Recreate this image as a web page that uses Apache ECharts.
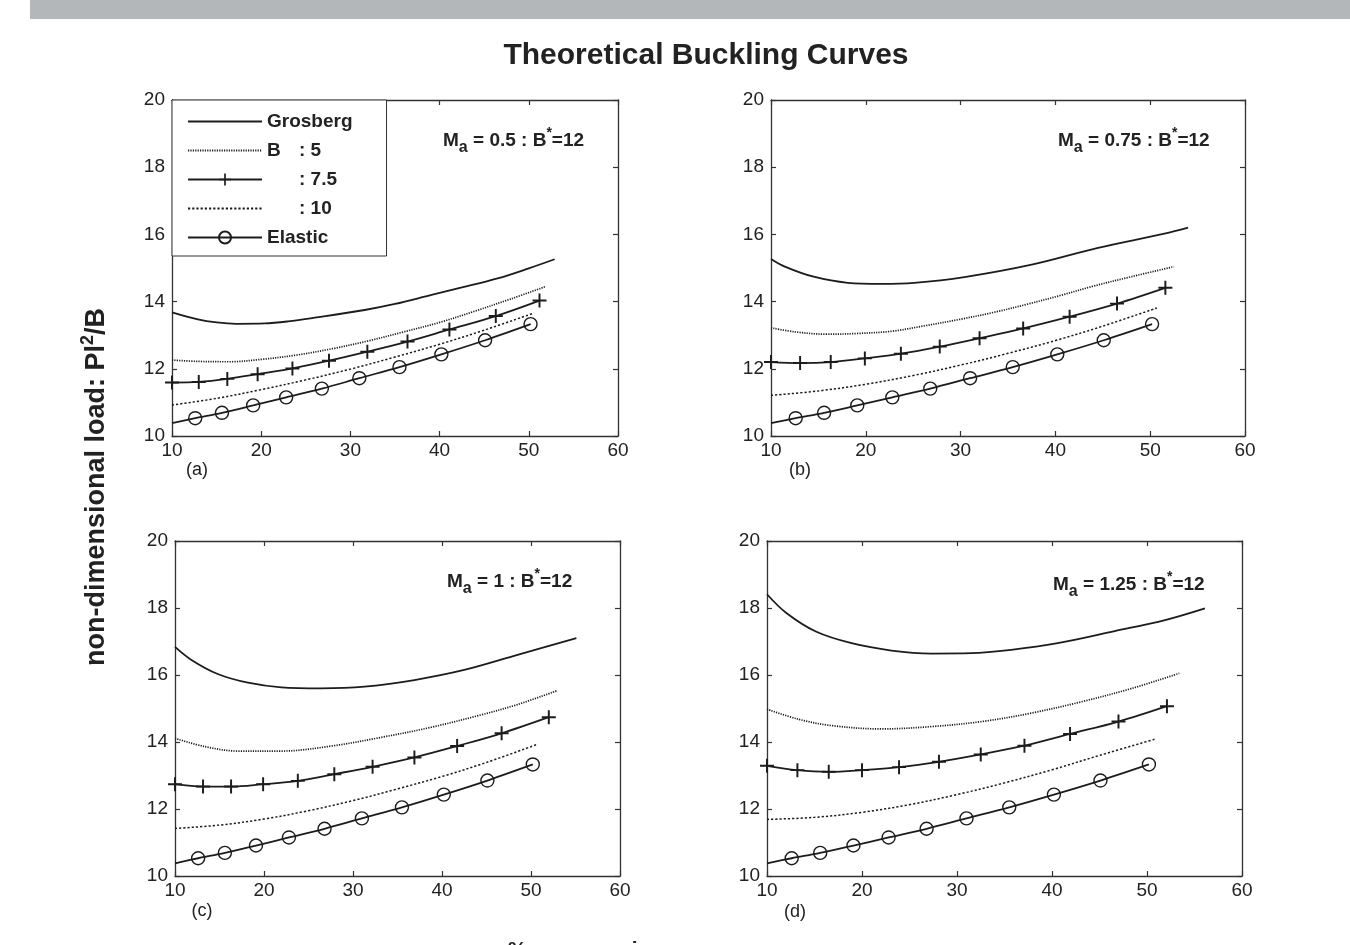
<!DOCTYPE html>
<html>
<head>
<meta charset="utf-8">
<title>Theoretical Buckling Curves</title>
<script src="https://cdn.jsdelivr.net/npm/echarts@6.0.0/dist/echarts.min.js"></script>
<style>
  html, body { margin: 0; padding: 0; background: #fff; }
  #chart { width: 1350px; height: 945px; }
</style>
</head>
<body>
<div id="chart"></div>
<script>
// values as [% compression, PL^2/B]
var elastic = [[10, 10.38], [12.6, 10.53], [15.6, 10.69], [19.1, 10.91], [22.8, 11.15], [26.8, 11.41],
    [31.0, 11.72], [35.5, 12.05], [40.2, 12.43], [45.1, 12.85], [50.2, 13.33]];

// (a) Ma = 0.5
var grosbergA = [[10, 13.68], [12.9, 13.47], [15, 13.38], [17.2, 13.34], [20.4, 13.35], [23, 13.41], [26, 13.52],
    [31.6, 13.75], [35, 13.93], [39.1, 14.2], [42.5, 14.42], [46.5, 14.69], [50, 14.99], [52.9, 15.26]];
var b5A = [[10, 12.26], [13, 12.22], [16.5, 12.21], [20, 12.28], [24, 12.41], [28, 12.6], [32, 12.83],
    [36, 13.1], [40, 13.38], [44, 13.72], [48, 14.08], [51.8, 14.44]];
var plusA = [[10, 11.59], [13, 11.61], [16.2, 11.7], [19.6, 11.84], [23.5, 12.01], [27.6, 12.24], [31.9, 12.51],
    [36.4, 12.81], [41.1, 13.17], [46.3, 13.57], [51.2, 14.03]];
var b10A = [[10, 10.92], [15, 11.12], [20, 11.38], [25, 11.67], [30, 11.99], [35, 12.35], [40, 12.73],
    [45, 13.15], [50.6, 13.66]];

// (b) Ma = 0.75
var grosbergB = [[10, 15.27], [11.4, 15.05], [14.5, 14.74], [18.1, 14.56], [21.6, 14.53], [25.1, 14.56],
    [30.4, 14.73], [37.5, 15.1], [44.5, 15.6], [51.5, 16.02], [54, 16.2]];
var b5B = [[10, 13.22], [12.5, 13.1], [15.8, 13.03], [19, 13.05], [22.8, 13.12], [26, 13.27], [29.9, 13.47],
    [33.5, 13.68], [37, 13.92], [40.5, 14.18], [44, 14.46], [48, 14.74], [52.5, 15.04]];
var plusB = [[10, 12.2], [13.07, 12.17], [16.3, 12.2], [19.9, 12.31], [23.7, 12.45], [27.8, 12.66], [32, 12.91],
    [36.6, 13.2], [41.5, 13.55], [46.5, 13.94], [51.6, 14.41]];
var b10B = [[10, 11.21], [15, 11.34], [20, 11.54], [25, 11.8], [30, 12.11], [35, 12.46], [40, 12.84],
    [45, 13.27], [50.7, 13.81]];

// (c) Ma = 1
var grosbergC = [[10, 16.84], [11.85, 16.45], [14.8, 16.03], [18.2, 15.77], [21.95, 15.63], [26.4, 15.6],
    [31.3, 15.65], [36.9, 15.85], [42.5, 16.15], [48.1, 16.57], [55.1, 17.1]];
var b5C = [[10, 14.11], [13.4, 13.86], [17.1, 13.73], [22, 13.73], [27.6, 13.88], [33.2, 14.14], [38.8, 14.44],
    [44.4, 14.81], [48.5, 15.12], [52.9, 15.53]];
var plusC = [[10, 12.74], [13.15, 12.67], [16.3, 12.67], [19.9, 12.74], [23.8, 12.84], [27.9, 13.04], [32.2, 13.26],
    [36.9, 13.54], [41.7, 13.88], [46.7, 14.26], [52, 14.74]];
var b10C = [[10, 11.42], [15, 11.52], [20, 11.7], [25, 11.95], [30, 12.25], [35, 12.6], [40, 12.97],
    [45, 13.39], [50.8, 13.94]];

// (d) Ma = 1.25
var grosbergD = [[10, 18.41], [12, 17.86], [15.2, 17.29], [18.9, 16.95], [23.1, 16.73], [27.3, 16.64], [31.5, 16.65],
    [35.7, 16.75], [40.6, 16.95], [46.6, 17.31], [51.9, 17.64], [56.1, 17.99]];
var b5D = [[10, 14.98], [13.3, 14.68], [16.8, 14.49], [22, 14.39], [27.3, 14.46], [32.6, 14.61], [37.8, 14.86],
    [43.1, 15.2], [48.4, 15.6], [53.4, 16.05]];
var plusD = [[10, 13.29], [13.2, 13.16], [16.5, 13.11], [20, 13.16], [23.9, 13.25], [28.1, 13.41], [32.5, 13.63],
    [37.1, 13.89], [41.9, 14.24], [47, 14.61], [52.1, 15.07]];
var b10D = [[10, 11.69], [15, 11.75], [20, 11.9], [25, 12.13], [30, 12.43], [35, 12.78], [40, 13.17],
    [45, 13.6], [50.9, 14.09]];

var maValues = ['0.5', '0.75', '1', '1.25'];
var panelTags = ['(a)', '(b)', '(c)', '(d)'];
var xRange = [10, 60, 10];   // min, max, step
var yRange = [10, 20, 2];

var FONT = '"Liberation Sans", Arial, Helvetica, sans-serif';
var ink = '#1c1c1c';
var plusPath = 'path://M4.3,0H5.7V4.3H10V5.7H5.7V10H4.3V5.7H0V4.3H4.3Z';

// layout of the four boxes (px)
var boxes = [
    {left: 172, top: 100, width: 446, height: 336},
    {left: 771, top: 100, width: 474, height: 336},
    {left: 175, top: 541, width: 445, height: 335},
    {left: 767, top: 541, width: 475, height: 335}
];
var notePos = [[443, 141], [1058, 141], [447, 582], [1053, 585]];
var tagPos = [[197, 470], [800, 470], [202, 911], [795, 912]];

var panels = [
    {grosberg: grosbergA, b5: b5A, plus: plusA, b10: b10A},
    {grosberg: grosbergB, b5: b5B, plus: plusB, b10: b10B},
    {grosberg: grosbergC, b5: b5C, plus: plusC, b10: b10C},
    {grosberg: grosbergD, b5: b5D, plus: plusD, b10: b10D}
];

var axisLine = {show: true, onZero: false, lineStyle: {color: '#333', width: 1.3}};
var axisTick = {show: true, inside: true, length: 5, lineStyle: {color: '#333', width: 1.2}};
var tickLabel = {fontSize: 19, color: '#222', fontFamily: FONT};

var xAxis = [], yAxis = [], series = [], graphic = [];

boxes.forEach(function (b, i) {
    // main axes + mirrored top/right axes for the closed box
    xAxis.push({gridIndex: i, type: 'value', min: xRange[0], max: xRange[1], interval: xRange[2],
        axisLine: axisLine, axisTick: axisTick, splitLine: {show: false},
        axisLabel: Object.assign({margin: 5}, tickLabel)});
    xAxis.push({gridIndex: i, type: 'value', position: 'top', min: xRange[0], max: xRange[1], interval: xRange[2],
        axisLine: axisLine, axisTick: axisTick, splitLine: {show: false}, axisLabel: {show: false}});
    yAxis.push({gridIndex: i, type: 'value', min: yRange[0], max: yRange[1], interval: yRange[2],
        axisLine: axisLine, axisTick: axisTick, splitLine: {show: false},
        axisLabel: Object.assign({margin: 7}, tickLabel)});
    yAxis.push({gridIndex: i, type: 'value', position: 'right', min: yRange[0], max: yRange[1], interval: yRange[2],
        axisLine: axisLine, axisTick: axisTick, splitLine: {show: false}, axisLabel: {show: false}});

    var p = panels[i];
    var base = {type: 'line', xAxisIndex: 2 * i, yAxisIndex: 2 * i, silent: true, smooth: 0.35,
        emphasis: {disabled: true}};
    series.push(Object.assign({}, base, {name: 'Grosberg', data: p.grosberg, symbol: 'none',
        itemStyle: {color: ink}, lineStyle: {color: ink, width: 1.8}}));
    series.push(Object.assign({}, base, {name: 'B5', data: p.b5, symbol: 'none',
        itemStyle: {color: ink}, lineStyle: {color: ink, width: 1.7, type: [1.2, 1.2]}}));
    series.push(Object.assign({}, base, {name: 'B7.5', data: p.plus, symbol: plusPath, symbolSize: 14,
        itemStyle: {color: ink}, lineStyle: {color: ink, width: 1.8}}));
    series.push(Object.assign({}, base, {name: 'B10', data: p.b10, symbol: 'none',
        itemStyle: {color: ink}, lineStyle: {color: ink, width: 1.5, type: [2.2, 2]}}));
    series.push(Object.assign({}, base, {name: 'Elastic',
        data: elastic.map(function (pt, k) { return k === 0 ? {value: pt, symbol: 'none'} : pt; }),
        symbol: 'circle', symbolSize: 13,
        itemStyle: {color: 'rgba(255,255,255,0)', borderColor: ink, borderWidth: 1.4},
        lineStyle: {color: ink, width: 1.8}}));

    // "Ma = x : B*=12" note
    graphic.push({type: 'text', x: notePos[i][0], y: notePos[i][1], z: 10,
        style: {text: '{n|M}{s|a}{n| = ' + maValues[i] + ' : B}{u|*}{n|=12}',
            textAlign: 'left', textVerticalAlign: 'middle',
            rich: {
                n: {fontSize: 19, fontWeight: 'bold', fontFamily: FONT, fill: '#222', lineHeight: 30},
                s: {fontSize: 16, fontWeight: 'bold', fontFamily: FONT, fill: '#222', lineHeight: 13, verticalAlign: 'bottom'},
                u: {fontSize: 14, fontWeight: 'bold', fontFamily: FONT, fill: '#222', lineHeight: 12, verticalAlign: 'top'}
            }}});
    graphic.push({type: 'text', x: tagPos[i][0], y: tagPos[i][1],
        style: {text: panelTags[i], font: '18px ' + FONT, fill: '#222', textAlign: 'center', textVerticalAlign: 'middle'}});
});

graphic.push({type: 'rect', shape: {x: 30, y: 0, width: 1320, height: 19}, style: {fill: '#b3b7ba'}, z: 0});
graphic.push({type: 'text', x: 706, y: 56,
    style: {text: 'Theoretical Buckling Curves', font: 'bold 30px ' + FONT, fill: '#222',
        textAlign: 'center', textVerticalAlign: 'middle'}});
graphic.push({type: 'text', x: 97, y: 487, rotation: Math.PI / 2,
    style: {text: '{n|non-dimensional load: Pl}{u|2}{n|/B}', textAlign: 'center', textVerticalAlign: 'middle',
        rich: {
            n: {fontSize: 27, fontWeight: 'bold', fontFamily: FONT, fill: '#222', lineHeight: 36},
            u: {fontSize: 18, fontWeight: 'bold', fontFamily: FONT, fill: '#222', lineHeight: 22, verticalAlign: 'top'}
        }}});
// axis title, mostly below the bottom edge of the page
graphic.push({type: 'text', x: 508, y: 950,
    style: {text: '% compression', font: 'bold 21px ' + FONT, fill: '#222', textAlign: 'left', textVerticalAlign: 'middle'}});

var legendText = {
    'Grosberg': 'Grosberg',
    'B5': '{g|B}: 5',
    'B7.5': '{g| }: 7.5',
    'B10': '{g| }: 10',
    'Elastic': 'Elastic'
};

var chart = echarts.init(document.getElementById('chart'), null, {renderer: 'canvas'});
chart.setOption({
    animation: false,
    backgroundColor: '#fff',
    grid: boxes.map(function (b) { return Object.assign({containLabel: false}, b); }),
    xAxis: xAxis,
    yAxis: yAxis,
    legend: {
        orient: 'vertical', left: 172, top: 100,
        padding: [12, 34, 9, 15],
        itemWidth: 74, itemHeight: 15, itemGap: 10,
        backgroundColor: '#fff', borderColor: '#333', borderWidth: 1, borderRadius: 0,
        selectedMode: false,
        textStyle: {fontSize: 19, fontWeight: 'bold', color: '#222', fontFamily: FONT, lineHeight: 17,
            rich: {g: {width: 32, fontSize: 19, fontWeight: 'bold', color: '#222', fontFamily: FONT, lineHeight: 17}}},
        formatter: function (name) { return legendText[name]; },
        data: [
            {name: 'Grosberg', itemStyle: {opacity: 0}},
            {name: 'B5', itemStyle: {opacity: 0}},
            {name: 'B7.5'},
            {name: 'B10', itemStyle: {opacity: 0}},
            {name: 'Elastic'}
        ]
    },
    graphic: graphic,
    series: series
});
</script>
</body>
</html>
